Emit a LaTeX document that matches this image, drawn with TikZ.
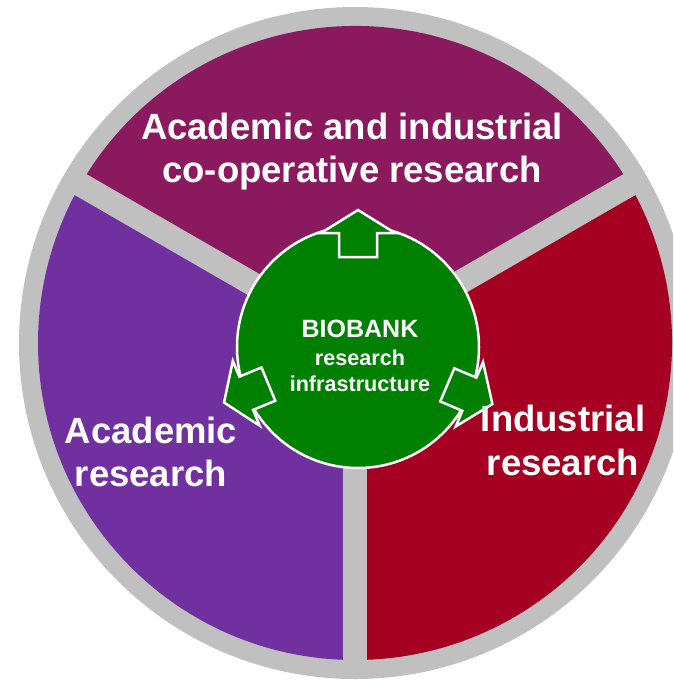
\documentclass[tikz,border=0pt]{standalone}
\usepackage{fontspec}
\usetikzlibrary{calc}
\setmainfont{Liberation Sans}
\definecolor{ringgray}{HTML}{C0C0C0}
\definecolor{topmag}{HTML}{8B195E}
\definecolor{leftpur}{HTML}{7030A0}
\definecolor{rightred}{HTML}{A50021}
\definecolor{hubgreen}{HTML}{008000}
\begin{document}
\begin{tikzpicture}[x=1pt,y=-1pt,
  biglbl/.style={text=white, font=\bfseries\fontsize{36.5}{42}\selectfont, inner sep=0pt},
  hubtxt/.style={text=white, font=\bfseries\fontsize{21.6}{25}\selectfont, inner sep=0pt},
  spokeline/.style={draw=ringgray, line width=24pt},
  hubarrowstyle/.style={fill=hubgreen, draw=white, line width=2.5pt, line join=miter},
]
\useasboundingbox (0,0) rectangle (673,681);
\clip (0,0) rectangle (673,681);
\coordinate (c) at (355,343);
% outer ring
\fill[ringgray] (c) circle[radius=336];
% sectors
\fill[topmag] (c) -- ++(-150:317) arc[start angle=-150, end angle=-30, radius=317] -- cycle;
\fill[leftpur] (c) -- ++(90:317) arc[start angle=90, end angle=210, radius=317] -- cycle;
\fill[rightred] (c) -- ++(-30:317) arc[start angle=-30, end angle=90, radius=317] -- cycle;
% spokes
\coordinate (s1) at ($(c)+(-150:330)$);
\coordinate (s2) at ($(c)+(-30:330)$);
\coordinate (s3) at ($(c)+(90:330)$);
\draw[spokeline] (c) -- (s1);
\draw[spokeline] (c) -- (s2);
\draw[spokeline] (c) -- (s3);
% hub
\node[circle, fill=hubgreen, draw=white, line width=2.5pt, minimum size=242pt, inner sep=0pt] (hub) at (358,347) {};
% arrows
\begin{scope}[shift={(358,347)}, rotate=90]
  \draw[hubarrowstyle] (90,-19) -- (114,-19) -- (114,-37) -- (137,0) -- (114,37) -- (114,19) -- (90,19) -- cycle;
\end{scope}
\begin{scope}[shift={(358,347)}, rotate=-157.5]
  \draw[hubarrowstyle] (97,-18) -- (121,-18) -- (121,-35) -- (145,0) -- (121,35) -- (121,18) -- (97,18) -- cycle;
\end{scope}
\begin{scope}[shift={(358,347)}, rotate=-23]
  \draw[hubarrowstyle] (97,-18) -- (121,-18) -- (121,-35) -- (146,0) -- (121,35) -- (121,18) -- (97,18) -- cycle;
\end{scope}
% hub text
\node[hubtxt, anchor=base, font=\bfseries\fontsize{25}{28}\selectfont] (bio) at (360,337) {BIOBANK};
\node[hubtxt, anchor=base] (res) at (360,365) {research};
\node[hubtxt, anchor=base] (infra) at (360,391) {infrastructure};
% labels
\node[biglbl, anchor=base] (t1) at (352,139) {Academic and industrial};
\node[biglbl, anchor=base] (t2) at (352,182) {co-operative research};
\node[biglbl, anchor=base] (l1) at (151,443) {Academic};
\node[biglbl, anchor=base] (l2) at (151,486) {research};
\node[biglbl, anchor=base] (r1) at (563,431) {Industrial};
\node[biglbl, anchor=base] (r2) at (563,475) {research};
\end{tikzpicture}
\end{document}
